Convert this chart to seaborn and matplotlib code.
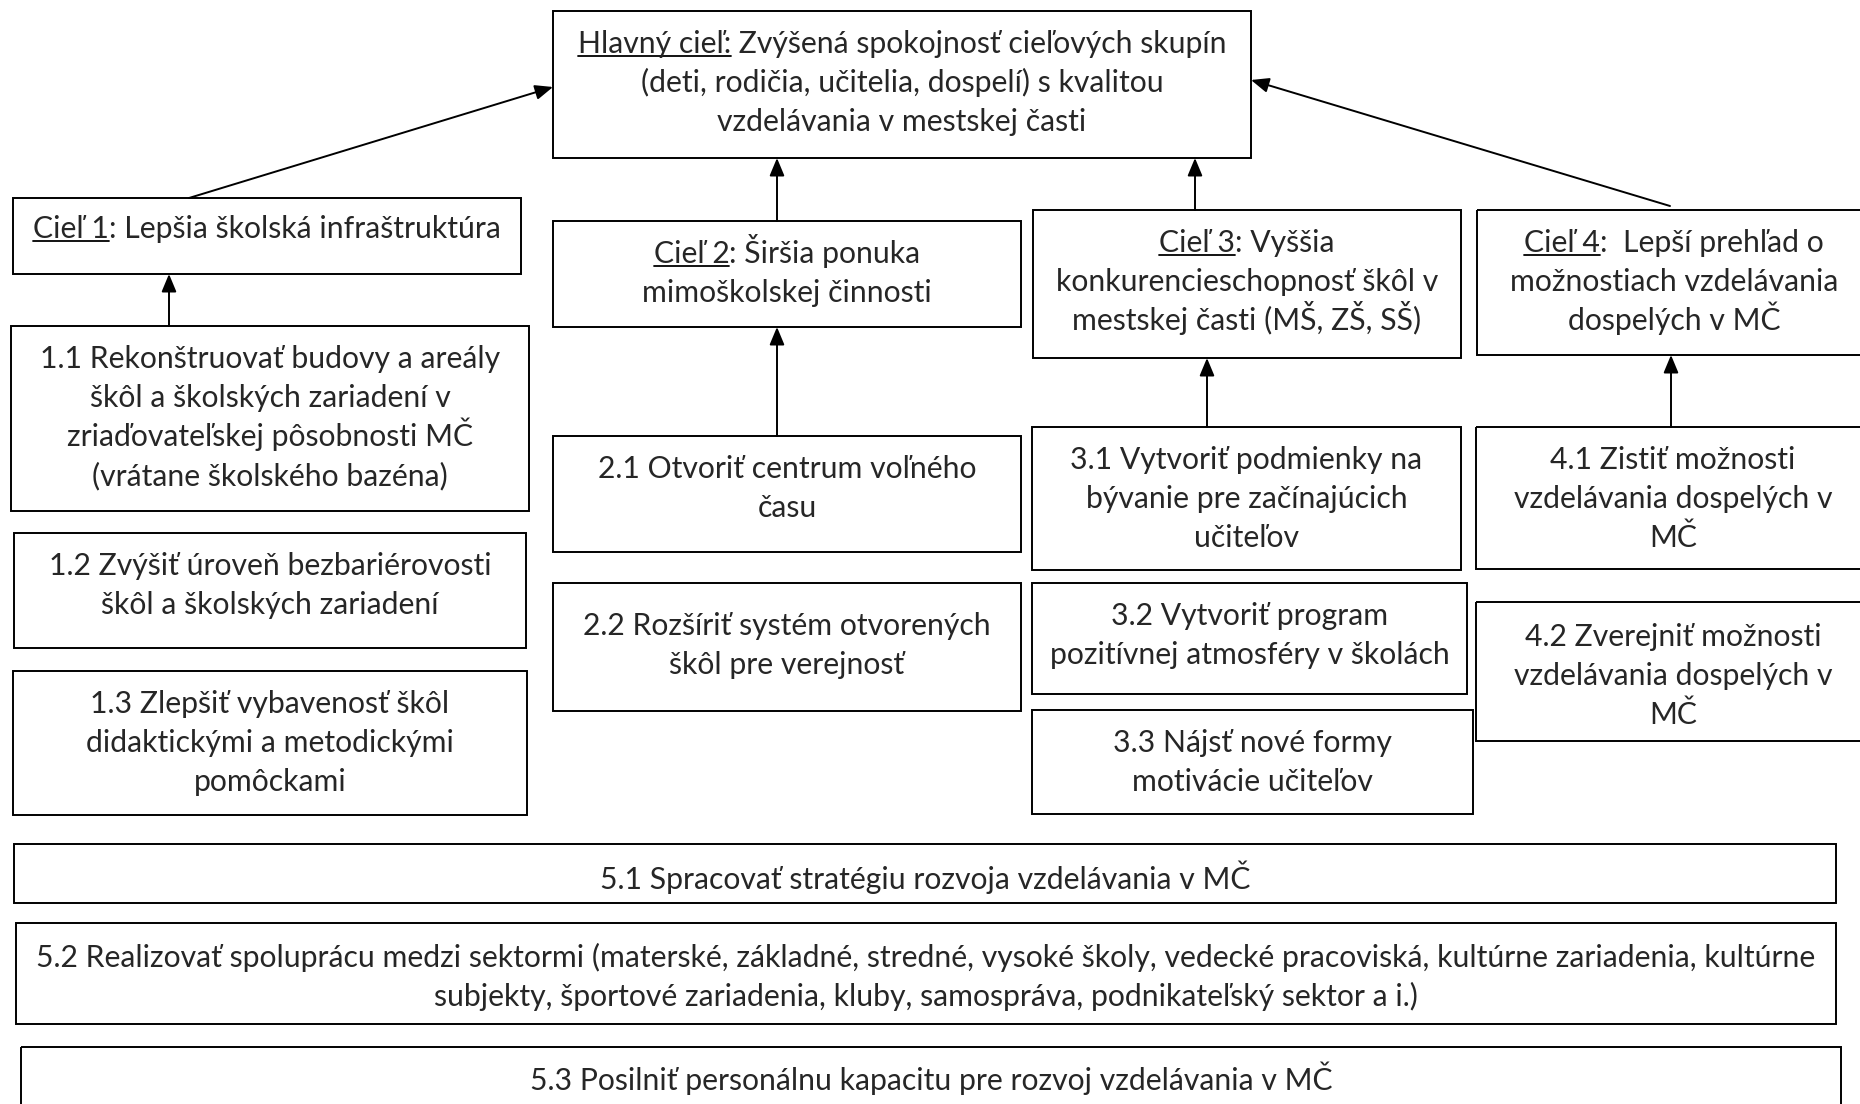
import matplotlib
matplotlib.use("Agg")
import matplotlib.pyplot as plt
import matplotlib.patches as mpatches
import seaborn as sns

# Texty diagramu (ciele a opatrenia)
hlavny_prefix = "Hlavný cieľ:"
hlavny_text = [" Zvýšená spokojnosť cieľových skupín",
               "(deti, rodičia, učitelia, dospelí) s kvalitou",
               "vzdelávania v mestskej časti"]

ciele_nazvy = ["Cieľ 1", "Cieľ 2", "Cieľ 3", "Cieľ 4"]
ciele_texty = [
    [": Lepšia školská infraštruktúra"],
    [": Širšia ponuka", "mimoškolskej činnosti"],
    [": Vyššia", "konkurencieschopnosť škôl v", "mestskej časti (MŠ, ZŠ, SŠ)"],
    [":  Lepší prehľad o", "možnostiach vzdelávania", "dospelých v MČ"],
]

opatrenia_1 = [
    ["1.1 Rekonštruovať budovy a areály", "škôl a školských zariadení v",
     "zriaďovateľskej pôsobnosti MČ", "(vrátane školského bazéna)"],
    ["1.2 Zvýšiť úroveň bezbariérovosti", "škôl a školských zariadení"],
    ["1.3 Zlepšiť vybavenosť škôl", "didaktickými a metodickými", "pomôckami"],
]
opatrenia_2 = [
    ["2.1 Otvoriť centrum voľného", "času"],
    ["2.2 Rozšíriť systém otvorených", "škôl pre verejnosť"],
]
opatrenia_3 = [
    ["3.1 Vytvoriť podmienky na", "bývanie pre začínajúcich", "učiteľov"],
    ["3.2 Vytvoriť program", "pozitívnej atmosféry v školách"],
    ["3.3 Nájsť nové formy", "motivácie učiteľov"],
]
opatrenia_4 = [
    ["4.1 Zistiť možnosti", "vzdelávania dospelých v", "MČ"],
    ["4.2 Zverejniť možnosti", "vzdelávania dospelých v", "MČ"],
]
opatrenia_5 = [
    ["5.1 Spracovať stratégiu rozvoja vzdelávania v MČ"],
    ["5.2 Realizovať spoluprácu medzi sektormi (materské, základné, stredné, vysoké školy, "
     "vedecké pracoviská, kultúrne zariadenia, kultúrne",
     "subjekty, športové zariadenia, kluby, samospráva, podnikateľský sektor a i.)"],
    ["5.3 Posilniť personálnu kapacitu pre rozvoj vzdelávania v MČ"],
]

# Rozloženie boxov v pixeloch: (x0, y0, x1, y1, posun textu)
layout = {
    "H": (553, 11, 1251, 158, 0),
    "C1": (13, 198, 521, 274, -2),
    "C2": (553, 221, 1021, 327, 0),
    "C3": (1033, 210, 1461, 358, 0),
    "C4": (1477, 210, 1871, 355, 0),
    "1.1": (11, 326, 529, 511, 0),
    "1.2": (14, 533, 526, 648, 0),
    "1.3": (13, 671, 527, 815, 0),
    "2.1": (553, 436, 1021, 552, 0),
    "2.2": (553, 583, 1021, 711, 10),
    "3.1": (1032, 427, 1461, 570, 0),
    "3.2": (1032, 583, 1467, 694, 0),
    "3.3": (1032, 710, 1473, 814, 0),
    "4.1": (1476, 427, 1870, 569, 0),
    "4.2": (1476, 602, 1870, 741, 2),
    "5.1": (14, 844, 1836, 903, 3),
    "5.2": (16, 923, 1836, 1024, 2),
    "5.3": (21, 1047, 1841, 1115, 1),
}

# Šípky: (zdroj, cieľ, x na zdroji, y na cieli alebo None pre spodnú hranu)
sipky = [
    ("C1", "H", 189, 87),
    ("C2", "H", 777, None),
    ("C3", "H", 1195, None),
    ("C4", "H", 1670, 80),
    ("1.1", "C1", 169, None),
    ("2.1", "C2", 777, None),
    ("3.1", "C3", 1207, None),
    ("4.1", "C4", 1671, None),
]

W, H = 1860, 1104
sns.set_style("white")
plt.rcParams["font.family"] = ["Lato", "DejaVu Sans"]

fig = plt.figure(figsize=(W / 100, H / 100), dpi=100)
ax = fig.add_axes([0, 0, 1, 1])
ax.set_xlim(0, W)
ax.set_ylim(H, 0)
ax.axis("off")
renderer = fig.canvas.get_renderer()

FS = 21.7
PRVY = 42      # baseline prvého riadku od horného okraja boxu
RIADOK = 39    # riadkovanie


def sirka(text):
    t = ax.text(0, 0, text, fontsize=FS)
    w = t.get_window_extent(renderer).width
    t.remove()
    return w


def box(key, lines, prefix=None):
    x0, y0, x1, y1, dy = layout[key]
    ax.add_patch(mpatches.Rectangle((x0, y0), x1 - x0, y1 - y0, fill=False,
                                    edgecolor="black", lw=1.4))
    xc = (x0 + x1) / 2
    for i, line in enumerate(lines):
        y = y0 + PRVY + dy + i * RIADOK
        if i == 0 and prefix:
            left = xc - sirka(prefix + line) / 2
            wp = sirka(prefix)
            ax.text(left, y, prefix, fontsize=FS, ha="left", va="baseline")
            ax.text(left + wp, y, line, fontsize=FS, ha="left", va="baseline")
            ax.plot([left, left + wp], [y + 3, y + 3], color="black", lw=1.3)
        else:
            ax.text(xc, y, line, fontsize=FS, ha="center", va="baseline")


box("H", hlavny_text, hlavny_prefix)
for i, (nazov, texty) in enumerate(zip(ciele_nazvy, ciele_texty)):
    box(f"C{i + 1}", texty, nazov)
for skupina, opatrenia in enumerate([opatrenia_1, opatrenia_2, opatrenia_3,
                                     opatrenia_4, opatrenia_5]):
    for j, lines in enumerate(opatrenia):
        box(f"{skupina + 1}.{j + 1}", lines)

for zdroj, ciel, xs, yt in sipky:
    sx0, sy0, sx1, sy1, _ = layout[zdroj]
    tx0, ty0, tx1, ty1, _ = layout[ciel]
    ys = sy0 - 4 if zdroj == "C4" else sy0
    if yt is None:
        end = (xs, ty1)
    else:
        end = (tx0 if xs < tx0 else tx1, yt)
    ax.annotate("", xy=end, xytext=(xs, ys),
                arrowprops=dict(arrowstyle="-|>,head_length=0.6,head_width=0.25",
                                mutation_scale=18, color="black", lw=1.4,
                                shrinkA=0, shrinkB=0))

fig.savefig("out.png", dpi=100, facecolor="white")
